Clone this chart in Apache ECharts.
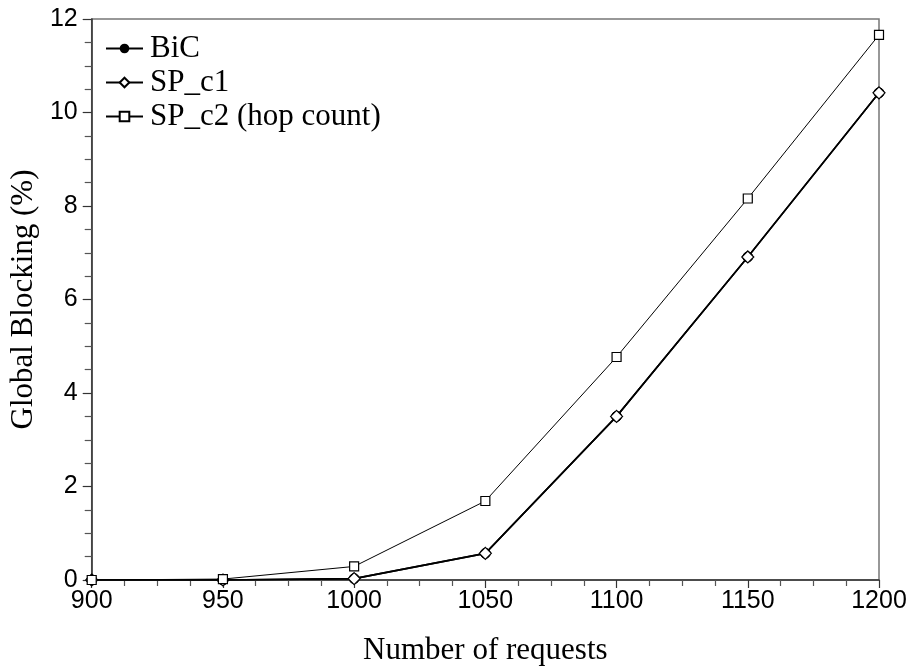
<!DOCTYPE html>
<html>
<head>
<meta charset="utf-8">
<script src="https://cdn.jsdelivr.net/npm/echarts@6/dist/echarts.min.js"></script>
<style>html,body{margin:0;padding:0;background:#fff}#c{width:912px;height:671px}</style>
</head>
<body>
<div id="c"></div>
<script>
var requests = [900, 950, 1000, 1050, 1100, 1150, 1200];
var bic  = [0, 0, 0.03, 0.57, 3.5, 6.91, 10.42];
var spC1 = [0, 0, 0.03, 0.57, 3.5, 6.91, 10.42];
var spC2 = [0, 0.02, 0.29, 1.69, 4.77, 8.16, 11.66];
var seriesNames = ['BiC', 'SP_c1', 'SP_c2 (hop count)'];

function pairs(vals){ return requests.map(function(x,i){ return [x, vals[i]]; }); }

var chart = echarts.init(document.getElementById('c'), null, {renderer:'canvas'});
var serif = 'Liberation Serif';
var sans = 'Liberation Sans';
chart.setOption({
  animation: false,
  backgroundColor: '#fff',
  grid: {left: 86, right: 33, top: 19, bottom: 91, show: true, borderColor: '#777', borderWidth: 1.5, backgroundColor: 'transparent'},
  legend: {
    orient: 'vertical', left: 100, top: 28, itemWidth: 37, itemHeight: 12, itemGap: 3,
    data: seriesNames,
    textStyle: {fontFamily: serif, fontSize: 31, color: '#000', padding: [0,0,0,2]}
  },
  xAxis: {
    type: 'value', min: 900, max: 1200, interval: 50,
    name: 'Number of requests', nameLocation: 'middle', nameGap: 55,
    nameTextStyle: {fontFamily: serif, fontSize: 31, color: '#000'},
    axisLine: {show: true, lineStyle: {color: '#333', width: 1.5}},
    axisTick: {show: true, inside: false, length: 8, lineStyle: {color: '#333', width: 1.2}},
    minorTick: {show: true, splitNumber: 4, length: 6, lineStyle: {color: '#555', width: 1.2}},
    axisLabel: {fontFamily: sans, fontSize: 25, color: '#000', margin: 9, formatter: function(v){ return String(v); }},
    splitLine: {show: false}
  },
  yAxis: {
    type: 'value', min: 0, max: 12, interval: 2,
    name: 'Global Blocking (%)', nameLocation: 'middle', nameGap: 45,
    nameTextStyle: {fontFamily: serif, fontSize: 31, color: '#000'},
    axisLine: {show: true, lineStyle: {color: '#333', width: 1.5}},
    axisTick: {show: true, inside: false, length: 9, lineStyle: {color: '#333', width: 1.2}},
    minorTick: {show: true, splitNumber: 4, length: 7, lineStyle: {color: '#555', width: 1.2}},
    axisLabel: {fontFamily: sans, fontSize: 25, color: '#000', margin: 14},
    splitLine: {show: false}
  },
  series: [
    {name: seriesNames[0], type: 'line', data: pairs(bic), symbol: 'circle', symbolSize: 10, showAllSymbol: true,
     lineStyle: {color: '#000', width: 1.6}, itemStyle: {color: '#000', borderColor: '#000'}, z: 2},
    {name: seriesNames[1], type: 'line', data: pairs(spC1), symbol: 'diamond', symbolSize: 12, showAllSymbol: true,
     lineStyle: {color: '#000', width: 1.6}, itemStyle: {color: '#fff', borderColor: '#000', borderWidth: 1.2}, z: 3},
    {name: seriesNames[2], type: 'line', data: pairs(spC2), symbol: 'rect', symbolSize: 9, showAllSymbol: true,
     lineStyle: {color: '#000', width: 1}, itemStyle: {color: '#fff', borderColor: '#000', borderWidth: 1.2}, z: 4}
  ]
});
</script>
</body>
</html>
